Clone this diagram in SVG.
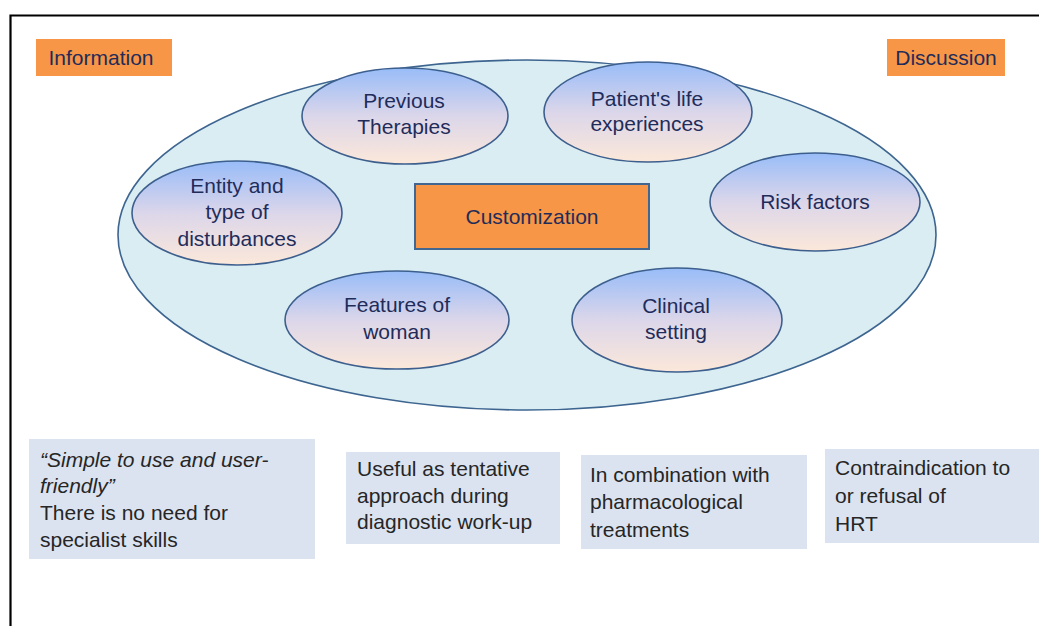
<svg xmlns="http://www.w3.org/2000/svg" width="1039" height="626" viewBox="0 0 1039 626">
<defs>
<linearGradient id="eg" x1="0" y1="0" x2="0" y2="1">
<stop offset="0" stop-color="#98bcf8"/>
<stop offset="0.5" stop-color="#dbd6ea"/>
<stop offset="1" stop-color="#fce8da"/>
</linearGradient>
<style>
.frame{fill:none;stroke:#000;stroke-width:2.2}
.big{fill:#daedf2;stroke:#3d6590;stroke-width:1.6}
.el{fill:url(#eg);stroke:#3d5f8e;stroke-width:1.6}
.org{fill:#f79646}
.cust{fill:#f79646;stroke:#41668f;stroke-width:2}
.box{fill:#dbe3f0}
.nt{font-family:"Liberation Sans",Arial,sans-serif;font-size:21px;fill:#1f2c5a;text-anchor:middle}
.bt{font-family:"Liberation Sans",Arial,sans-serif;font-size:21px;fill:#262626}
.it{font-style:italic}
</style>
</defs>
<rect width="1039" height="626" fill="#fff"/>
<path class="frame" d="M10.5,626 V15.5 H1039"/>
<g id="information"><rect class="org" x="36" y="39" width="136" height="37"/><text class="nt" x="101" y="65">Information</text></g>
<g id="discussion"><rect class="org" x="887" y="39" width="118" height="37"/><text class="nt" x="946" y="65">Discussion</text></g>
<g id="outer"><ellipse class="big" cx="527" cy="235" rx="409" ry="175"/></g>
<g id="previous-therapies"><ellipse class="el" cx="405" cy="116" rx="103" ry="48"/><text class="nt" x="404" y="108">Previous</text><text class="nt" x="404" y="134">Therapies</text></g>
<g id="patients-life"><ellipse class="el" cx="648" cy="112" rx="104" ry="50"/><text class="nt" x="647" y="106">Patient's life</text><text class="nt" x="647" y="131">experiences</text></g>
<g id="entity"><ellipse class="el" cx="237" cy="213" rx="105" ry="52"/><text class="nt" x="237" y="193">Entity and</text><text class="nt" x="237" y="219">type of</text><text class="nt" x="237" y="246">disturbances</text></g>
<g id="risk-factors"><ellipse class="el" cx="815" cy="202" rx="105" ry="49"/><text class="nt" x="815" y="209">Risk factors</text></g>
<g id="features"><ellipse class="el" cx="397" cy="320" rx="112" ry="49"/><text class="nt" x="397" y="312">Features of</text><text class="nt" x="397" y="339">woman</text></g>
<g id="clinical"><ellipse class="el" cx="677" cy="320" rx="105" ry="52"/><text class="nt" x="676" y="313">Clinical</text><text class="nt" x="676" y="339">setting</text></g>
<g id="customization"><rect class="cust" x="415" y="184" width="234" height="65"/><text class="nt" x="532" y="224">Customization</text></g>
<g id="connectors"></g>
<g id="box1"><rect class="box" x="29" y="439" width="286" height="120"/>
<text class="bt it" x="40" y="467">“Simple to use and user-</text>
<text class="bt it" x="40" y="493">friendly”</text>
<text class="bt" x="40" y="520">There is no need for</text>
<text class="bt" x="40" y="547">specialist skills</text></g>
<g id="box2"><rect class="box" x="346" y="452" width="214" height="92"/>
<text class="bt" x="357" y="476">Useful as tentative</text>
<text class="bt" x="357" y="503">approach during</text>
<text class="bt" x="357" y="529">diagnostic work-up</text></g>
<g id="box3"><rect class="box" x="581" y="455" width="226" height="94"/>
<text class="bt" x="590" y="482">In combination with</text>
<text class="bt" x="590" y="509">pharmacological</text>
<text class="bt" x="590" y="537">treatments</text></g>
<g id="box4"><rect class="box" x="825" y="449" width="214" height="94"/>
<text class="bt" x="835" y="475">Contraindication to</text>
<text class="bt" x="835" y="503">or refusal of</text>
<text class="bt" x="835" y="531">HRT</text></g>
</svg>
